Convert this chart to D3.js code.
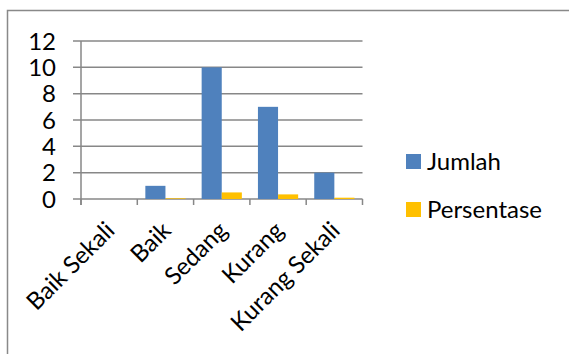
<!DOCTYPE html>
<html>
<head>
<meta charset="utf-8">
<script src="https://cdn.jsdelivr.net/npm/d3@7/dist/d3.min.js"></script>
<style>
  html, body { margin: 0; padding: 0; background: #fff; }
  svg { display: block; }
  text { font-family: Lato, "Open Sans", sans-serif; fill: #000; }
</style>
</head>
<body>
<svg id="chart" width="569" height="354"></svg>
<script>
// Categories and series
const categories = ["Baik Sekali", "Baik", "Sedang", "Kurang", "Kurang Sekali"];
const seriesNames = ["Jumlah", "Persentase"];
const jumlah = [0, 1, 10, 7, 2];
const persentase = [0, 0.05, 0.5, 0.35, 0.1];
const yTicks = [0, 2, 4, 6, 8, 10, 12];
const colors = ["#4F81BD", "#FFC000"];

const svg = d3.select("#chart");
const W = 569, H = 354;
const fontSize = 24;

// Outer chart frame (extends past the right and bottom edges)
svg.append("rect")
  .attr("x", 7.5).attr("y", 10.5)
  .attr("width", W + 10).attr("height", H + 10)
  .attr("fill", "none").attr("stroke", "#898989").attr("stroke-width", 1.5);

const plot = { left: 81, right: 362.5, top: 41, bottom: 199 };

const x = d3.scaleBand().domain(categories).range([plot.left, plot.right]).paddingInner(0).paddingOuter(0);
const x1 = d3.scaleBand().domain(seriesNames).range([0, x.bandwidth()]).paddingInner(0).paddingOuter(0.4);
const y = d3.scaleLinear().domain([0, 12]).range([plot.bottom, plot.top]);

// Horizontal gridlines
svg.append("g").selectAll("line").data(yTicks).join("line")
  .attr("x1", plot.left - 8).attr("x2", plot.right)
  .attr("y1", d => y(d)).attr("y2", d => y(d))
  .attr("stroke", "#878787").attr("stroke-width", 1.5);

// Y axis line
svg.append("line")
  .attr("x1", plot.left).attr("x2", plot.left)
  .attr("y1", plot.top).attr("y2", plot.bottom + 6)
  .attr("stroke", "#878787").attr("stroke-width", 1.5);

// Y tick labels
svg.append("g").selectAll("text").data(yTicks).join("text")
  .attr("x", 56).attr("y", d => y(d))
  .attr("dy", "0.36em")
  .attr("text-anchor", "end")
  .attr("font-size", fontSize)
  .text(d => d);

// Category tick marks
const catEdges = categories.map(c => x(c)).concat([x(categories[categories.length - 1]) + x.bandwidth()]);
svg.append("g").selectAll("line").data(catEdges).join("line")
  .attr("x1", d => d).attr("x2", d => d)
  .attr("y1", plot.bottom).attr("y2", plot.bottom + 6)
  .attr("stroke", "#878787").attr("stroke-width", 1.5);

// Bars
const rows = categories.map((c, i) => ({ cat: c, values: [jumlah[i], persentase[i]] }));
const groups = svg.append("g").selectAll("g").data(rows).join("g")
  .attr("transform", d => `translate(${x(d.cat)},0)`);
groups.selectAll("rect")
  .data(d => d.values.map((v, i) => ({ key: seriesNames[i], v, i })))
  .join("rect")
  .attr("x", d => x1(d.key))
  .attr("width", x1.bandwidth())
  .attr("y", d => y(d.v))
  .attr("height", d => y(0) - y(d.v))
  .attr("fill", d => colors[d.i]);

// Rotated category labels
svg.append("g").selectAll("text").data(categories).join("text")
  .attr("transform", c => `translate(${x(c) + x.bandwidth() / 2 + 7},${plot.bottom + 33}) rotate(-45)`)
  .attr("text-anchor", "end")
  .attr("font-size", fontSize)
  .text(c => c);

// Legend
const legend = svg.append("g").selectAll("g").data(seriesNames).join("g")
  .attr("transform", (d, i) => `translate(406,${154 + i * 48})`);
legend.append("rect").attr("width", 15).attr("height", 15).attr("fill", (d, i) => colors[i]);
legend.append("text")
  .attr("x", 21).attr("y", 7.5).attr("dy", "0.36em")
  .attr("font-size", fontSize)
  .text(d => d);
</script>
</body>
</html>
